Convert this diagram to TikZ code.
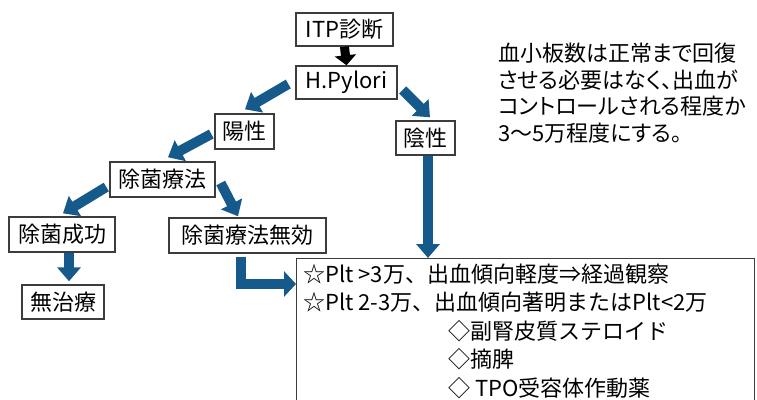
\documentclass[tikz,border=0pt]{standalone}
\usepackage{fontspec}
\setmainfont{Noto Sans CJK JP}
\newfontfamily\jpp[RawFeature=+palt]{Noto Sans CJK JP}
\usetikzlibrary{arrows.meta,calc}
\definecolor{arrowblue}{RGB}{22,90,140}
\definecolor{boxline}{RGB}{60,60,60}
\begin{document}
\begin{tikzpicture}[x=1pt,y=-1pt,
  box/.style={draw=boxline, line width=1.4pt, inner sep=0pt, font=\fontsize{22}{26}\selectfont},
  barrow/.style={draw=arrowblue, line width=10pt, -{Triangle[length=14pt,width=23pt]}},
  karrow/.style={draw=black, line width=9pt, -{Triangle[length=10pt,width=21pt]}}]
\useasboundingbox (0,0) rectangle (757,399);
\fill[white] (0,0) rectangle (757,399);
\clip (0,0) rectangle (757,399);
% boxes
\node[box, minimum width=97pt, minimum height=33pt] (itp) at (344.5,29.5) {ITP診断};
\node[box, minimum width=101pt, minimum height=33pt] (hp) at (346.5,82.5) {H.Pylori};
\node[box, minimum width=59pt, minimum height=35pt] (yo) at (244.5,131.5) {陽性};
\node[box, minimum width=59pt, minimum height=34pt] (in) at (425.5,138) {陰性};
\node[box, minimum width=105pt, minimum height=35pt] (jo) at (162.5,179.5) {除菌療法};
\node[box, minimum width=106pt, minimum height=35pt] (sei) at (62,234.5) {除菌成功};
\node[box, minimum width=157pt, minimum height=35pt] (muko) at (247.5,235.5) {除菌療法無効};
\node[box, minimum width=82pt, minimum height=34pt] (muchi) at (63,302) {無治療};
\node[box, anchor=north west, minimum width=458pt, minimum height=170pt] (big) at (296,258) {};
% texts
\node[anchor=west, align=left, inner sep=0pt, font=\jpp\fontsize{22}{26.7}\selectfont] (note) at (498,93)
  {血小板数は正常まで回復\\させる必要はなく、出血が\\コントロールされる程度か\\3～5万程度にする。};
\node[anchor=west, align=left, inner sep=0pt, font=\fontsize{22}{28.5}\selectfont] (cond) at (303,331)
  {☆Plt >3万、出血傾向軽度⇒経過観察\\
   ☆Plt 2-3万、出血傾向著明またはPlt<2万\\
   \hspace*{145pt}◇副腎皮質ステロイド\\
   \hspace*{145pt}◇摘脾\\
   \hspace*{145pt}◇ TPO受容体作動薬};
% arrows
\draw[karrow] (itp.south) -- (hp.north);
\draw[barrow] ($(hp.west)+(-7,1.5)$) -- ($(yo.north)+(0.5,-4)$);
\draw[barrow] ($(hp.east)+(5,7.5)$) -- ($(in.north)+(4.5,-3)$);
\draw[barrow] ($(yo.west)+(-3,2.5)$) -- ($(jo.north)+(5.5,-4)$);
\draw[barrow] ($(jo.west)+(-3,7.5)$) -- ($(sei.north)+(1,-3)$);
\draw[barrow] ($(jo.east)+(5,3.5)$) -- ($(muko.north)+(-9.5,-1)$);
\draw[barrow] ($(sei.south)+(7,0)$) -- ($(sei.south |- muchi.north)+(7,-3)$);
\draw[barrow] ($(in.south)+(2.5,0)$) -- ($(in.south |- big.north)+(2.5,0)$);
\draw[barrow, -{Triangle[length=12pt,width=25pt]}] ($(muko.south)+(-6.5,3)$) |- ($(big.north west)+(0,26)$);
\end{tikzpicture}
\end{document}
